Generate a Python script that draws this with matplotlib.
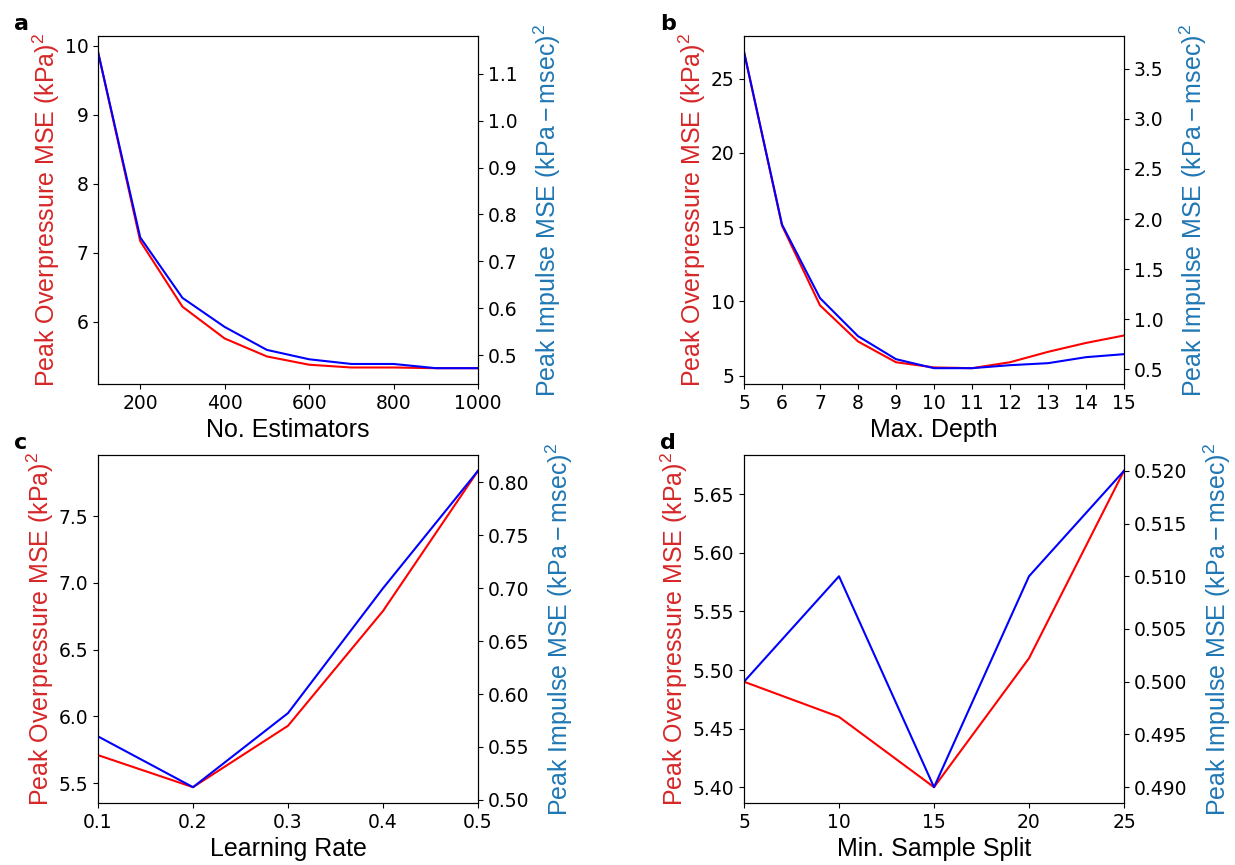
import numpy as np
import matplotlib
matplotlib.use('Agg')
import matplotlib.pyplot as plt

plt.rcParams['mathtext.fontset'] = 'custom'
plt.rcParams['mathtext.rm'] = 'Liberation Sans'
plt.rcParams['mathtext.it'] = 'Liberation Sans:italic'

# a: number of estimators
n_est = [100, 200, 300, 400, 500, 600, 700, 800, 900, 1000]
a_over = [9.91, 7.17, 6.22, 5.76, 5.50, 5.38, 5.34, 5.34, 5.33, 5.33]
a_imp = [1.147, 0.751, 0.622, 0.560, 0.511, 0.491, 0.481, 0.481, 0.472, 0.472]
a_ticks = [200, 400, 600, 800, 1000]

# b: max depth
depth = [5, 6, 7, 8, 9, 10, 11, 12, 13, 14, 15]
b_over = [26.8, 15.1, 9.73, 7.3, 5.9, 5.55, 5.5, 5.9, 6.6, 7.2, 7.7]
b_imp = [3.67, 1.945, 1.21, 0.83, 0.60, 0.51, 0.51, 0.54, 0.56, 0.62, 0.65]
b_ticks = depth

# c: learning rate
lr = [0.1, 0.2, 0.3, 0.4, 0.5]
c_over = [5.71, 5.47, 5.93, 6.79, 7.84]
c_imp = [0.560, 0.512, 0.582, 0.700, 0.811]
c_ticks = lr

# d: min sample split
split = [5, 10, 15, 20, 25]
d_over = [5.49, 5.46, 5.40, 5.51, 5.67]
d_imp = [0.500, 0.510, 0.490, 0.510, 0.520]
d_ticks = split

panels = [
    ('a', n_est, a_over, a_imp, a_ticks, 'No. Estimators'),
    ('b', depth, b_over, b_imp, b_ticks, 'Max. Depth'),
    ('c', lr, c_over, c_imp, c_ticks, 'Learning Rate'),
    ('d', split, d_over, d_imp, d_ticks, 'Min. Sample Split'),
]

W, H = 1235, 865
fig = plt.figure(figsize=(W / 100, H / 100), dpi=100)

lefts = [98, 744]
tops = [36, 455]
aw, ah = 380, 348

label_font = 'Liberation Sans'

for k, (letter, x, y1, y2, xt, xlabel) in enumerate(panels):
    col = k % 2
    row = k // 2
    l = lefts[col]
    t = tops[row]
    ax = fig.add_axes([l / W, 1 - (t + ah) / H, aw / W, ah / H])
    ax.plot(x, y1, color='red', lw=1.5)
    ax.set_xticks(xt)
    ax.set_xlim(x[0], x[-1])
    ax.set_xlabel(xlabel, fontsize=18, family=label_font, labelpad=4)
    ax.set_ylabel(r'Peak Overpressure MSE $\mathrm{(kPa)^2}$', color='tab:red',
                  fontsize=18, family=label_font, labelpad=2)
    ax.tick_params(labelsize=13.5)

    ax2 = ax.twinx()
    ax2.plot(x, y2, color='blue', lw=1.5)
    ax2.set_ylabel(r'Peak Impulse MSE $\mathrm{(kPa-msec)^2}$', color='tab:blue',
                   fontsize=18, family=label_font, labelpad=10)
    ax2.tick_params(labelsize=13.5)

    fig.text((l - 84) / W, 1 - (t - 12) / H, letter, fontsize=16,
             fontweight='bold', ha='left', va='center')

fig.savefig('out.png', dpi=100)
